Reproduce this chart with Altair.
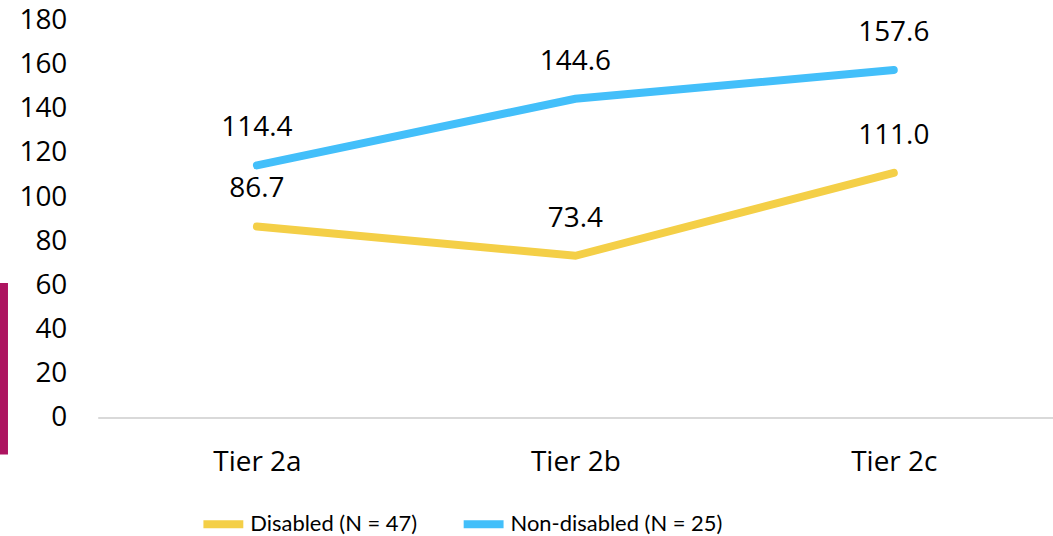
import altair as alt
import pandas as pd

# Categories and series values
tiers = ["Tier 2a", "Tier 2b", "Tier 2c"]
disabled = [86.7, 73.4, 111.0]
non_disabled = [114.4, 144.6, 157.6]
series_names = ["Disabled (N = 47)", "Non-disabled (N = 25)"]
series_colors = ["#F4CF47", "#43BFFA"]
y_ticks = [0, 20, 40, 60, 80, 100, 120, 140, 160, 180]

rows = []
for name, values in zip(series_names, [disabled, non_disabled]):
    for tier, v in zip(tiers, values):
        rows.append({"tier": tier, "value": v, "series": name, "label": f"{v:.1f}"})
df = pd.DataFrame(rows)

FONT = "Open Sans"
FS = 28
LEGEND_FONT = "Lato"
LEGEND_FS = 22

x = alt.X(
    "tier:N",
    sort=tiers,
    title=None,
    scale=alt.Scale(type="point", padding=0.5),
    axis=alt.Axis(
        labelAngle=0,
        labelFontSize=FS,
        labelFont=FONT,
        labelColor="#000000",
        labelPadding=31,
        ticks=False,
        domainColor="#D9D9D9",
        domainWidth=2,
        grid=False,
    ),
)
y = alt.Y(
    "value:Q",
    title=None,
    scale=alt.Scale(domain=[0, 180], nice=False, zero=True),
    axis=alt.Axis(
        values=y_ticks,
        labelFontSize=FS,
        labelFont=FONT,
        labelColor="#000000",
        labelPadding=31,
        ticks=False,
        domain=False,
        grid=False,
    ),
)
color = alt.Color(
    "series:N",
    sort=series_names,
    scale=alt.Scale(domain=series_names, range=series_colors),
    legend=alt.Legend(
        title=None,
        orient="none",
        legendX=102,
        legendY=481,
        direction="horizontal",
        symbolType="stroke",
        symbolStrokeWidth=8,
        symbolSize=1600,
        labelFontSize=LEGEND_FS,
        labelFont=LEGEND_FONT,
        labelColor="#000000",
        labelLimit=0,
        labelOffset=3,
        columnPadding=30,
    ),
)

lines = alt.Chart(df).mark_line(strokeWidth=8, strokeCap="round", strokeJoin="miter").encode(
    x=x, y=y, color=color
)

labels = alt.Chart(df).mark_text(
    dy=-37, fontSize=FS, font=FONT, color="#000000"
).encode(x=alt.X("tier:N", sort=tiers), y="value:Q", text="label:N")

# Accent bar at the left edge
accent = alt.Chart(pd.DataFrame({"a": [0]})).mark_rect(color="#AD1460").encode(
    x=alt.value(-98), x2=alt.value(-90), y=alt.value(263), y2=alt.value(435)
)

chart = (
    alt.layer(lines, labels, accent)
    .properties(
        width=958,
        height=398,
        autosize=alt.AutoSizeParams(type="none"),
        padding={"left": 98, "top": 20, "right": 0, "bottom": 118},
    )
    .configure_view(stroke=None)
)

chart.save("out.html", embed_options={"renderer": "svg", "actions": False})
